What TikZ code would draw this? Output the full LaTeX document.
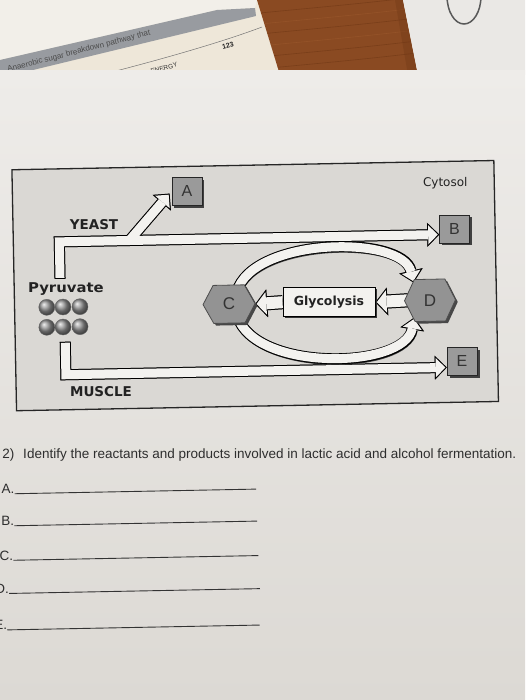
\documentclass[tikz,border=0pt]{standalone}
\usepackage{fontspec}
\usepackage{graphicx}
\setmainfont{Liberation Sans}
\newfontfamily\pixfont{DejaVu Sans}
\usetikzlibrary{arrows.meta,calc,shadows}
\definecolor{topwhite}{HTML}{F2EFE9}
\definecolor{cream}{HTML}{EEE7D9}
\definecolor{band}{HTML}{989BA0}
\definecolor{wood}{HTML}{8A4A22}
\definecolor{wooddark}{HTML}{6E3614}
\definecolor{woodlight}{HTML}{9C592D}
\definecolor{rpaper}{HTML}{EAE8E5}
\definecolor{pagetop}{HTML}{EEECE9}
\definecolor{pagebot}{HTML}{DCD9D4}
\definecolor{framefill}{HTML}{DAD8D4}
\definecolor{boxgrey}{HTML}{9A9A9A}
\definecolor{hexgrey}{HTML}{939393}
\definecolor{ink}{HTML}{222222}
\definecolor{qink}{HTML}{2E2E2E}
\definecolor{barfill}{HTML}{F3F2EF}
\newcommand\drawhex[4]{%
\begin{scope}[shift={(#1,#2)}]
\fill[black!72] (-#3+2.2,2.2) -- (-0.6*#3+2.2,-#4+2.2) -- (0.6*#3+2.2,-#4+2.2) -- (#3+2.2,2.2) -- (0.6*#3+2.2,#4+2.2) -- (-0.6*#3+2.2,#4+2.2) -- cycle;
\draw[draw=black!70, line width=0.8pt, fill=hexgrey] (-#3,0) -- (-0.6*#3,-#4) -- (0.6*#3,-#4) -- (#3,0) -- (0.6*#3,#4) -- (-0.6*#3,#4) -- cycle;
\end{scope}}
\begin{document}
\begin{tikzpicture}[x=1pt,y=-1pt,
  lbox/.style={draw=black!85, line width=0.8pt, fill=boxgrey, minimum width=30pt, minimum height=28pt, inner sep=0pt, font=\fontsize{16}{16}\selectfont, text=black!80, drop shadow={shadow xshift=2.5pt, shadow yshift=-2.5pt, fill=black!75, opacity=1}},
  hexn/.style={minimum width=52pt, minimum height=38pt, inner sep=0pt, font=\fontsize{17}{17}\selectfont, text=black!80},
  pix/.style={font=\pixfont\bfseries\fontsize{13.5}{14}\selectfont, text=ink, inner sep=0pt},
  cyt/.style={font=\pixfont\fontsize{12}{13}\selectfont, text=ink, inner sep=0pt},
  gbox/.style={draw=black, line width=1pt, fill=barfill, minimum width=92pt, minimum height=29pt, inner sep=0pt, drop shadow={shadow xshift=1.5pt, shadow yshift=-1.5pt, fill=black!80, opacity=1}, font=\pixfont\bfseries\fontsize{12.5}{13}\selectfont, text=ink},
  ball/.style={circle, minimum size=16pt, inner sep=0pt, shading=ball, ball color=gray!85, draw=black!60, line width=0.4pt},
  barsh/.style={draw=black!75, line width=11pt, line join=miter, xshift=0.9pt, yshift=-0.9pt},
  barout/.style={draw=black, line width=11pt, line join=miter},
  barin/.style={draw=barfill, line width=9pt, line join=miter},
  tipout/.style={-{Triangle[length=12pt,width=24pt,line width=0pt]}},
  tipin/.style={shorten >=1.41pt, -{Triangle[length=9.6pt,width=19.2pt,line width=0pt]}},
  sbarsh/.style={draw=black!75, line width=14pt, xshift=0.9pt, yshift=-0.9pt},
  sbarout/.style={draw=black, line width=14pt},
  sbarin/.style={draw=barfill, line width=12pt},
  stipout/.style={-{Triangle[length=12pt,width=28pt,line width=0pt]}},
  stipin/.style={shorten >=1.32pt, -{Triangle[length=9.7pt,width=22.6pt,line width=0pt]}},
  ansfont/.style={font=\fontsize{13.5}{16}\selectfont, text=qink, inner sep=0pt},
  ansline/.style={draw=black!80, line width=0.9pt},
]
\useasboundingbox (0,0) rectangle (525,700);
\clip (0,0) rectangle (525,700);
% ---------- top strip: papers and table ----------
\fill[cream] (0,0) rectangle (285,75);
\fill[topwhite] (0,0) -- (257,0) -- (255,8) -- (217,10) -- (0,60) -- cycle;
\fill[band] (0,60) -- (217,10) -- (255,8) -- (256,16) -- (0,78) -- cycle;
\node[rotate=14.5, anchor=base west, inner sep=0pt, font=\fontsize{8}{9}\selectfont, text=black!70] (t1) at (8,72) {Anaerobic sugar breakdown pathway that};
\draw[black!55, line width=0.5pt] (112,72) .. controls (170,57) and (225,41) .. (262,27);
\node[rotate=14.5, inner sep=0pt, font=\bfseries\fontsize{7}{8}\selectfont, text=black!85] (t2) at (228,46) {123};
\node[rotate=14.5, inner sep=0pt, font=\fontsize{6.5}{7}\selectfont, text=black!80] (t3) at (164,68) {ENERGY};
\fill[wood] (257,0) -- (403,0) -- (418,75) -- (280,75) -- cycle;
\begin{scope}
\clip (257,0) -- (403,0) -- (418,75) -- (280,75) -- cycle;
\foreach \yy/\cc in {8/wooddark,19/woodlight,29/wooddark,41/woodlight,52/wooddark,64/wooddark}
  \draw[\cc, line width=0.6pt, opacity=0.6] (250,\yy+6) .. controls (310,\yy) and (360,\yy-4) .. (425,\yy-12);
\fill[wooddark, opacity=0.35] (395,0) -- (403,0) -- (418,75) -- (408,75) -- cycle;
\end{scope}
\fill[rpaper] (403,0) -- (525,0) -- (525,75) -- (418,75) -- cycle;
\draw[black!65, line width=1.5pt] (464,-4) ellipse [x radius=17, y radius=28];
% ---------- lower page ----------
\shade[top color=pagetop, bottom color=pagebot] (0,71) rectangle (525,700);
\begin{scope}[rotate around={1.1:(262,380)}]
\draw[black!85, line width=1.3pt, fill=framefill] (16,165) rectangle (498,406);
\node[cyt] (cytosol) at (449,186.5) {Cytosol};
\node[pix] (yeast) at (97,221.8) {YEAST};
\node[pix] (muscle) at (100.8,388.9) {MUSCLE};
\node[pix] (P) at (67.7,285.2) {\scalebox{1.1}[1]{Pyruvate}};
% boxes (placed first so anchors exist)
\node[lbox] (A) at (190.6,189.6) {A};
\node[lbox] (B) at (457.4,232.7) {B};
\node[lbox] (E) at (462.4,365.3) {E};
\node[gbox] (G) at (330.5,303.5) {Glycolysis};
\coordinate (Cc) at (230.5,303.5);
\coordinate (Dc) at (431.5,303.5);
\node[hexn] (C) at (Cc) {};
\node[hexn, minimum width=51pt, minimum height=42pt] (D) at (Dc) {};
% yeast pathway
\coordinate (yst) at (62,275);
\coordinate (ycn) at (62,238);
\coordinate (ybr) at (132,238);
\coordinate (atip) at ($(A.west)+(-2,2.6)$);
\draw[barsh, tipout] (yst) -- (ycn) -- (ycn -| B.west);
\draw[barsh, tipout] (ybr) -- (atip);
\draw[barout, tipout] (yst) -- (ycn) -- (ycn -| B.west);
\draw[barout, tipout] (ybr) -- (atip);
\draw[barin, tipin, shorten <=1pt] (yst) -- (ycn) -- (ycn -| B.west);
\draw[barin, tipin] (ybr) -- (atip);
% muscle pathway
\coordinate (mst) at (66,338);
\coordinate (mcn) at (66,371);
\draw[barsh, tipout] (mst) -- (mcn) -- (mcn -| E.west);
\draw[barout, tipout] (mst) -- (mcn) -- (mcn -| E.west);
\draw[barin, tipin, shorten <=1pt] (mst) -- (mcn) -- (mcn -| E.west);
% glycolysis cycle arcs
\coordinate (us) at ($(Cc)+(8,-12)$);
\coordinate (ue) at ($(Dc)+(-16,-18)$);
\coordinate (ls) at ($(Cc)+(8,12)$);
\coordinate (le) at ($(Dc)+(-16,17)$);
\draw[barsh, tipout] (us) .. controls (255,237) and (405,237) .. (ue);
\draw[barout, tipout] (us) .. controls (255,237) and (405,237) .. (ue);
\draw[barin, tipin] (us) .. controls (255,237) and (405,237) .. (ue);
\draw[barsh, tipout] (ls) .. controls (255,372) and (405,372) .. (le);
\draw[barout, tipout] (ls) .. controls (255,372) and (405,372) .. (le);
\draw[barin, tipin] (ls) .. controls (255,372) and (405,372) .. (le);
% short arrows D -> Glycolysis -> C
\draw[sbarsh, stipout] ($(D.west)+(7,0)$) -- (G.east);
\draw[sbarout, stipout] ($(D.west)+(7,0)$) -- (G.east);
\draw[sbarin, stipin] ($(D.west)+(7,0)$) -- (G.east);
\draw[sbarsh, stipout] (G.west) -- (C.east);
\draw[sbarout, stipout] (G.west) -- (C.east);
\draw[sbarin, stipin] (G.west) -- (C.east);
% redraw boxes on top
\node[gbox] at (G) {Glycolysis};
\drawhex{230.5}{303.5}{26}{19}
\drawhex{431.5}{303.5}{25.5}{21}
\node[hexn] at (Cc) {C};
\node[hexn] at (Dc) {D};
% pyruvate molecules
\foreach \i/\xx in {1/48.2,2/64.4,3/81.4}{
  \node[ball] (pa\i) at (\xx,303.2) {};
  \node[ball] (pb\i) at (\xx-0.3,323.2) {};
}
% ---------- question ----------
\node[anchor=base west, ansfont] (q) at (0.6,453) {2)\hspace{9pt}Identify the reactants and products involved in lactic acid and alcohol fermentation.};
\node[anchor=base east, ansfont] (la) at (12.5,489) {A.};
\node[anchor=base east, ansfont] (lb) at (11.5,521) {B.};
\node[anchor=base east, ansfont] (lc) at (10,555.5) {C.};
\node[anchor=base east, ansfont] (ld) at (5,588.6) {D.};
\node[anchor=base east, ansfont] (le2) at (2.5,625) {E.};
\coordinate (ea) at (254,489);
\coordinate (eb) at (254.5,521);
\coordinate (ec) at (255,555.5);
\coordinate (ed) at (256,588.6);
\coordinate (ee) at (255,625);
\draw[ansline] (la.base east) -- (ea);
\draw[ansline] (lb.base east) -- (eb);
\draw[ansline] (lc.base east) -- (ec);
\draw[ansline] (ld.base east) -- (ed);
\draw[ansline] (le2.base east) -- (ee);
\end{scope}
\end{tikzpicture}
\end{document}
